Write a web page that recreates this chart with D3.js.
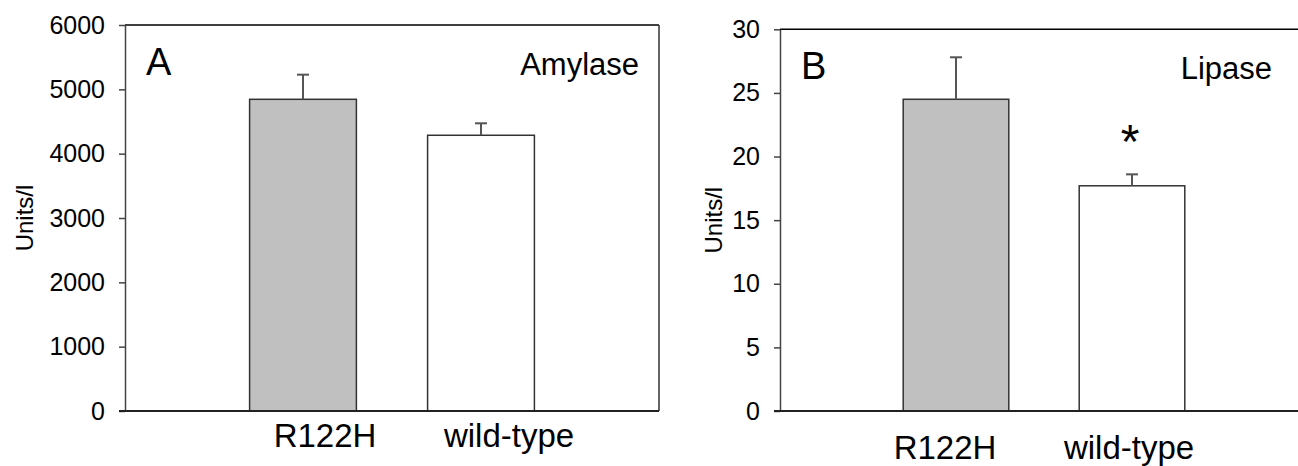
<!DOCTYPE html>
<html>
<head>
<meta charset="utf-8">
<script src="https://cdn.jsdelivr.net/npm/d3@7"></script>
<style>
    body { margin: 0; background: #fff; }
    svg { display: block; font-family: "Liberation Sans", Arial, sans-serif; }
</style>
</head>
<body>
<svg width="1298" height="466"></svg>
<script>
var categories = ["R122H", "wild-type"];

var amylaseMeans = [4845, 4286];
var amylaseErrors = [383, 186];
var amylaseTicks = [0, 1000, 2000, 3000, 4000, 5000, 6000];

var lipaseMeans = [24.5, 17.7];
var lipaseErrors = [3.3, 0.9];
var lipaseTicks = [0, 5, 10, 15, 20, 25, 30];

var barFills = ["#c0c0c0", "#ffffff"];

var svg = d3.select("svg");

function drawPanel(opt) {
    var g = svg.append("g").attr("transform", "translate(" + opt.left + "," + opt.top + ")");
    var w = opt.width, h = opt.height;

    var x = d3.scalePoint().domain(categories).range([0, w]).padding(1);
    var y = d3.scaleLinear().domain([0, opt.max]).range([h, 0]);
    var bw = x.step() * 0.6;

    // frame
    g.append("line").attr("x1", 0).attr("x2", w).attr("y1", 0).attr("y2", 0)
        .attr("stroke", "#000").attr("stroke-width", 1.5);
    g.append("line").attr("x1", w).attr("x2", w).attr("y1", 0).attr("y2", h)
        .attr("stroke", "#333").attr("stroke-width", 1.5);

    // bars
    g.selectAll(".bar").data(opt.means).enter().append("rect")
        .attr("class", "bar")
        .attr("x", function (d, i) { return x(categories[i]) - bw / 2; })
        .attr("y", function (d) { return y(d); })
        .attr("width", bw)
        .attr("height", function (d) { return h - y(d); })
        .attr("fill", function (d, i) { return barFills[i]; })
        .attr("stroke", "#333")
        .attr("stroke-width", 1.5);

    // error bars (upper only)
    var err = g.selectAll(".err").data(opt.means).enter().append("g").attr("class", "err")
        .attr("stroke", "#555").attr("stroke-width", 2);
    err.append("line")
        .attr("x1", function (d, i) { return x(categories[i]); })
        .attr("x2", function (d, i) { return x(categories[i]); })
        .attr("y1", function (d) { return y(d); })
        .attr("y2", function (d, i) { return y(d + opt.errors[i]); });
    err.append("line")
        .attr("x1", function (d, i) { return x(categories[i]) - 6; })
        .attr("x2", function (d, i) { return x(categories[i]) + 6; })
        .attr("y1", function (d, i) { return y(d + opt.errors[i]); })
        .attr("y2", function (d, i) { return y(d + opt.errors[i]); });

    // y axis
    var ax = g.append("g")
        .call(d3.axisLeft(y).tickValues(opt.ticks).tickFormat(d3.format("d"))
            .tickSize(6).tickSizeOuter(0).tickPadding(14));
    ax.select(".domain").attr("stroke", "#444").attr("stroke-width", 1.5);
    ax.selectAll(".tick line").attr("stroke", "#444").attr("stroke-width", 1.5);
    ax.selectAll(".tick text").attr("font-size", 25).attr("fill", "#000")
        .attr("font-family", "Liberation Sans, Arial, sans-serif");

    // bottom axis line
    g.append("line").attr("x1", -6).attr("x2", w).attr("y1", h).attr("y2", h)
        .attr("stroke", "#222").attr("stroke-width", 2);

    // category labels
    g.selectAll(".cat").data(categories).enter().append("text")
        .attr("x", function (d, i) { return x(d) + opt.labelDx[i]; })
        .attr("y", h + opt.labelDy)
        .attr("text-anchor", "middle")
        .attr("font-size", 33)
        .text(function (d) { return d; });

    // y title
    g.append("text")
        .attr("transform", "translate(" + opt.titleDx + "," + (h / 2) + ") rotate(-90)")
        .attr("text-anchor", "middle")
        .attr("font-size", 24)
        .text("Units/l");

    g.append("text").attr("x", 21).attr("y", 50).attr("font-size", 38).text(opt.letter);
    g.append("text").attr("x", opt.titleX).attr("y", 50).attr("text-anchor", "end")
        .attr("font-size", 31).text(opt.title);

    if (opt.star) {
        g.append("text")
            .attr("x", x(categories[1]) - 2)
            .attr("y", 158 - opt.top)
            .attr("text-anchor", "middle")
            .attr("font-size", 48)
            .text("*");
    }
}

drawPanel({
    left: 125, top: 25, width: 534, height: 386, max: 6000,
    means: amylaseMeans, errors: amylaseErrors, ticks: amylaseTicks,
    letter: "A", title: "Amylase", titleX: 514, titleDx: -92,
    labelDx: [22, 28], labelDy: 36
});

drawPanel({
    left: 780, top: 29.3, width: 528, height: 381.7, max: 30,
    means: lipaseMeans, errors: lipaseErrors, ticks: lipaseTicks,
    letter: "B", title: "Lipase", titleX: 492, titleDx: -58,
    labelDx: [-11, -3], labelDy: 48, star: true
});
</script>
</body>
</html>
